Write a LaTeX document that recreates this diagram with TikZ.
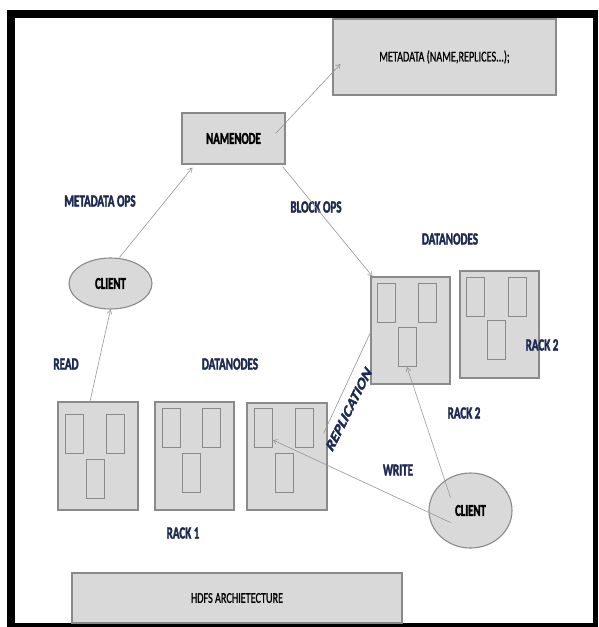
\documentclass[tikz,border=0pt]{standalone}
\usepackage{fontspec}
\usepackage{tikz}
\usetikzlibrary{arrows.meta,positioning,shapes.geometric}
\newfontfamily\narrowfont[FakeStretch=0.68,FakeBold=0.8]{Carlito}
\newfontfamily\narrowbold[FakeStretch=0.65,FakeBold=2]{Carlito Bold}
\newfontfamily\widebold[FakeBold=2]{Carlito Bold}
\definecolor{boxfill}{RGB}{217,217,217}
\definecolor{boxline}{RGB}{138,138,138}
\definecolor{arrline}{RGB}{150,150,150}
\definecolor{navy}{RGB}{28,42,82}
\tikzset{
  box/.style={draw=boxline, fill=boxfill, line width=1.1pt, inner sep=0pt, align=center, font=\narrowfont\fontsize{15}{17}\selectfont},
  bbox/.style={box, font=\narrowbold\fontsize{16.5}{18}\selectfont},
  cl/.style={ellipse, draw=boxline, fill=boxfill, line width=1.1pt, inner sep=0pt, minimum width=83pt, font=\narrowbold\fontsize{16.5}{18}\selectfont},
  rack/.style={draw=boxline, fill=boxfill, line width=1.1pt, inner sep=0pt, minimum width=79pt, minimum height=107pt},
  slot/.style={draw=boxline, fill=boxfill, line width=1pt, inner sep=0pt, minimum width=18pt, minimum height=39pt},
  arr/.style={-{Straight Barb[length=4pt,width=5pt]}, draw=arrline, line width=0.6pt},
  ln/.style={draw=arrline, line width=0.6pt},
  lbl/.style={font=\narrowbold\fontsize{17}{19}\selectfont, text=navy, inner sep=0pt}
}
\begin{document}
\begin{tikzpicture}[x=1pt, y=-1pt]
  \useasboundingbox (0,0) rectangle (598,627);
  \fill[white] (0,0) rectangle (598,627);
  % frame
  \fill[black] (7,10) rectangle (598,627);
  \fill[white] (15,18) rectangle (593,623);

  \node[box, minimum width=223pt, minimum height=76pt] (meta) at (444.5,57) {METADATA (NAME,REPLICES...);};
  \node[bbox, minimum width=103pt, minimum height=51pt] (nn) at (233.5,138.5) {NAMENODE};
  \node[cl, minimum height=51pt] (c1) at (110.5,283.5) {CLIENT};
  \node[cl, minimum height=75pt] (c2) at (470.5,510.5) {CLIENT};
  \node[box, minimum width=330pt, minimum height=50pt] (hdfs) at (237,598) {HDFS ARCHIETECTURE};

  % rack 1
  \node[rack, minimum width=80pt, minimum height=108pt] (b1) at (98,456) {};
  \node[slot] (b1l) at (74,434) {};
  \node[slot] (b1r) at (115.5,434) {};
  \node[slot] (b1m) at (95,478.5) {};
  \node[rack, minimum height=108pt] (b2) at (194.5,456) {};
  \node[slot] (b2l) at (171,427.5) {};
  \node[slot] (b2r) at (211.5,427.5) {};
  \node[slot] (b2m) at (191,473) {};
  \node[rack, minimum width=80pt] (b3) at (287,456.5) {};
  \node[slot] (b3l) at (263.5,428) {};
  \node[slot] (b3r) at (304.5,428) {};
  \node[slot] (b3m) at (284,473) {};
  % rack 2
  \node[rack] (rA) at (410.5,330.5) {};
  \node[slot] (rAl) at (386.5,302.5) {};
  \node[slot] (rAr) at (427.5,302.5) {};
  \node[slot] (rAm) at (407,347) {};
  \node[rack] (rB) at (499.5,324.5) {};
  \node[slot] (rBl) at (475.5,296.5) {};
  \node[slot] (rBr) at (517,296.5) {};
  \node[slot] (rBm) at (496,340) {};

  % labels
  \node[lbl] (mops) at (100,201) {METADATA OPS};
  \node[lbl] (bops) at (316,207) {BLOCK OPS};
  \node[lbl] (dn2) at (450,239) {DATANODES};
  \node[lbl] (rd) at (66,364) {READ};
  \node[lbl] (dn1) at (230,364) {DATANODES};
  \node[lbl] (rk2a) at (542,345) {RACK 2};
  \node[lbl] (rk2b) at (464,413) {RACK 2};
  \node[lbl] (wr) at (398,470) {WRITE};
  \node[lbl] (rk1) at (183,533) {RACK 1};
  \begin{scope}[shift={(349,409)}, xscale=0.66]
    \node[lbl, transform shape, rotate=53, font=\widebold\fontsize{18.5}{20}\selectfont] (repl) at (0,0) {REPLICATION};
  \end{scope}

  % connectors
  \draw[arr] ([xshift=-10pt,yshift=5pt]nn.east) -- ([xshift=8pt,yshift=-7pt]meta.west);
  \draw[arr] ([xshift=9pt]c1.north) -- ([xshift=11pt,yshift=-3pt]nn.south west);
  \draw[arr] ([xshift=-3pt,yshift=-2pt]nn.south east) -- ([xshift=2pt]rA.north west);
  \draw[arr] ([xshift=-8pt]b1.north) -- (c1.south);
  \draw[ln] ([xshift=-4pt,yshift=23pt]b3.east) -- ([yshift=-2pt]rA.west);
  \draw[arr] ([xshift=-20pt,yshift=-12pt]c2.center) -- ([yshift=-12pt]b3l.east);
  \draw[arr] ([xshift=-20pt,yshift=13pt]c2.center) -- (rAm.south);
\end{tikzpicture}
\end{document}
